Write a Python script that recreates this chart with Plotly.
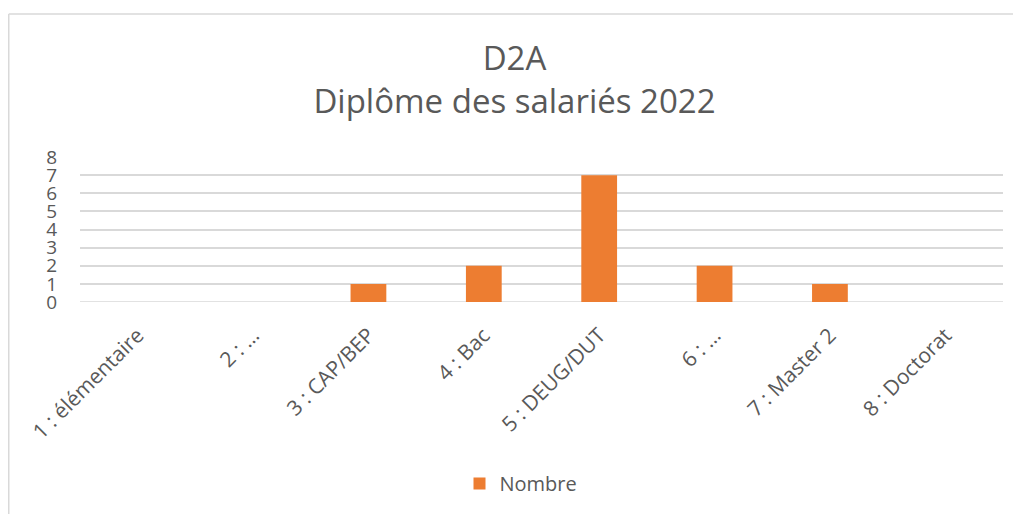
import plotly.graph_objects as go

categories = ["1 : élémentaire", "2 : …", "3 : CAP/BEP", "4 : Bac", "5 : DEUG/DUT",
              "6 : …", "7 : Master 2", "8 : Doctorat"]
values = [0, 0, 1, 2, 7, 2, 1, 0]
series_name = "Nombre"
y_ticks = [0, 1, 2, 3, 4, 5, 6, 7, 8]

# page has an 8px body margin; work in reference pixel coordinates and offset
OFF = 8
W, H = 1021 - OFF, 514 - OFF
# plot area in reference pixels: x 80..1003, y 157..304
L, R, T, B = 80 - OFF, 1021 - 1003, 157 - OFF, 514 - 304
pw, ph = W - L - R, H - T - B

font = "Open Sans"
gray = "#595959"

fig = go.Figure()
fig.add_trace(go.Bar(x=categories, y=values, name=series_name,
                     marker=dict(color="#ED7D31", line=dict(width=0))))

def px_x(x):  # reference pixel -> paper x
    return (x - OFF - L) / pw

def px_y(y):  # reference pixel -> paper y
    return (H - B - (y - OFF)) / ph

fig.update_layout(
    width=W, height=H,
    margin=dict(l=L, r=R, t=T, b=B),
    paper_bgcolor="white", plot_bgcolor="white",
    font=dict(family=font, color=gray),
    title=dict(text="D2A<br>Diplôme des salariés 2022", x=0.5, xanchor="center",
               y=1 - (70 - OFF) / H, yanchor="middle",
               font=dict(size=33, color=gray, family=font)),
    bargap=0.69,
    showlegend=True,
    legend=dict(orientation="h", x=px_x(521), xanchor="center", y=px_y(488), yanchor="middle",
                font=dict(size=20, color=gray), itemwidth=30),
    xaxis=dict(tickangle=-45, tickfont=dict(size=21, color=gray), showgrid=False,
               showline=False, ticks="", zeroline=False, ticklabelstandoff=16),
    yaxis=dict(range=[0, 8], tickvals=y_ticks, tickfont=dict(size=19, color=gray),
               showgrid=True, gridcolor="#D9D9D9", gridwidth=1.5, zeroline=False,
               showline=False, ticks="", ticklabelstandoff=22, fixedrange=True),
    shapes=[
        dict(type="line", xref="paper", yref="paper", x0=px_x(OFF + 0.75), x1=px_x(1030),
             y0=px_y(12), y1=px_y(12), line=dict(color="#D9D9D9", width=1.5)),
        dict(type="line", xref="paper", yref="paper", x0=px_x(OFF + 0.75), x1=px_x(OFF + 0.75),
             y0=px_y(12), y1=px_y(530), line=dict(color="#D9D9D9", width=1.5)),
        dict(type="line", xref="paper", yref="y", x0=0, x1=1, y0=0, y1=0,
             line=dict(color="#D9D9D9", width=1.5), layer="below"),
    ],
)

fig.write_html("out.html")
